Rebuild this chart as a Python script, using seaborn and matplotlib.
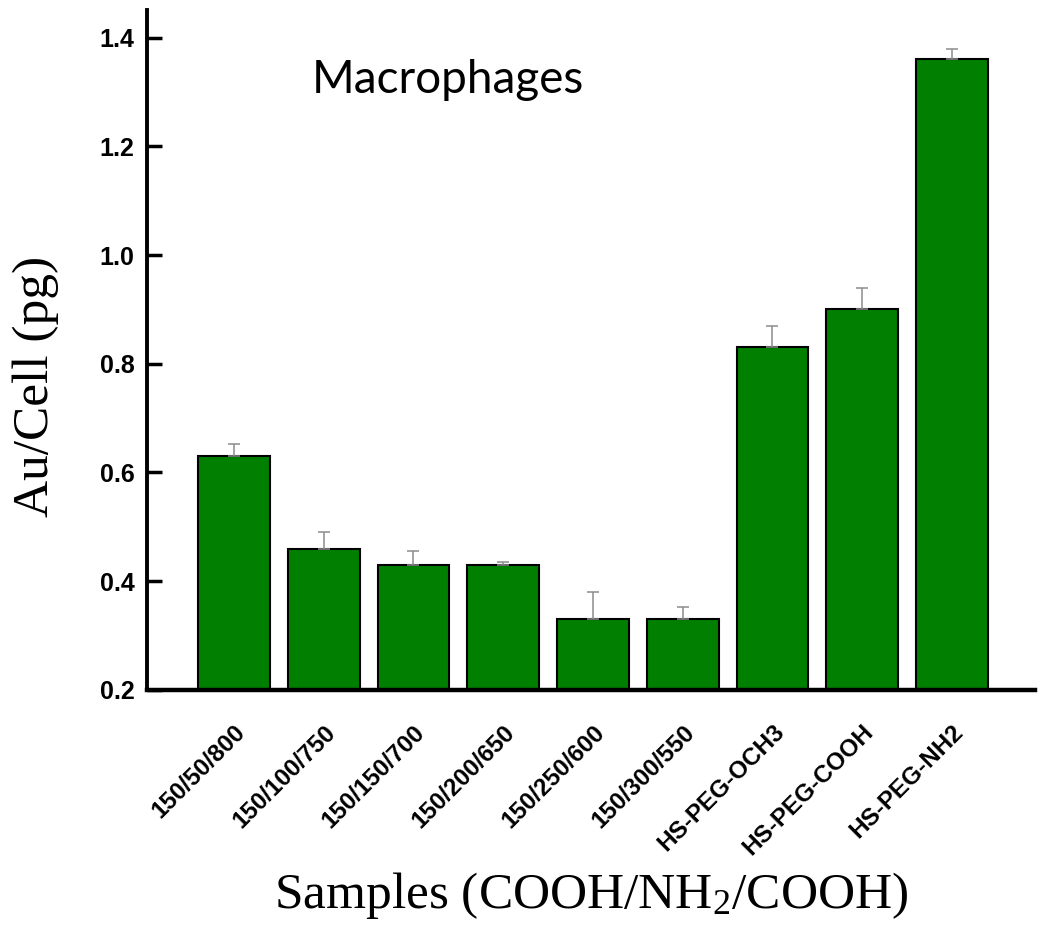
import matplotlib.pyplot as plt
import numpy as np
import pandas as pd
import seaborn as sns

samples = ["150/50/800", "150/100/750", "150/150/700", "150/200/650",
           "150/250/600", "150/300/550", "HS-PEG-OCH3", "HS-PEG-COOH", "HS-PEG-NH2"]
au_cell = [0.63, 0.46, 0.43, 0.43, 0.33, 0.33, 0.83, 0.90, 1.36]
err_up = [0.022, 0.030, 0.026, 0.005, 0.050, 0.022, 0.040, 0.040, 0.018]

df = pd.DataFrame({"sample": samples, "au": au_cell, "err": err_up})

sns.set_style("ticks")
plt.rcParams["text.color"] = "black"
plt.rcParams["axes.labelcolor"] = "black"
plt.rcParams["xtick.color"] = "black"
plt.rcParams["ytick.color"] = "black"
plt.rcParams["axes.edgecolor"] = "black"
plt.rcParams["mathtext.fontset"] = "custom"
plt.rcParams["mathtext.rm"] = "Liberation Serif"
plt.rcParams["mathtext.it"] = "Liberation Serif:italic"

fig = plt.figure(figsize=(10.5, 9.4), dpi=100)
ax = fig.add_axes([0.140, 0.266, 0.846, 0.723])

sns.barplot(data=df, x="sample", y="au", color="#007f00", saturation=1,
            edgecolor="black", linewidth=1.5, width=0.8, ax=ax)

# nur obere Fehlerbalken
ax.errorbar(np.arange(len(df)), df["au"], yerr=[np.zeros(len(df)), df["err"]],
            fmt="none", ecolor="#8c8c8c", elinewidth=1.1, capsize=4.5, capthick=1.1)

ax.set_ylim(0.2, 1.45)
ax.set_xlim(-0.97, 8.93)
ax.set_yticks([0.2, 0.4, 0.6, 0.8, 1.0, 1.2, 1.4])
ax.set_yticklabels(["0.2", "0.4", "0.6", "0.8", "1.0", "1.2", "1.4"],
                   fontfamily="Liberation Sans", fontweight="bold", fontsize=18)

ax.set_xticks(np.arange(len(df)))
ax.set_xticklabels(samples, rotation=45, ha="right", rotation_mode="anchor",
                   fontfamily="Liberation Sans", fontweight="bold", fontsize=17.5)

ax.tick_params(axis="y", direction="in", length=11, width=2.5, pad=9)
ax.tick_params(axis="x", length=0, pad=22)

sns.despine(ax=ax)
ax.spines["left"].set_linewidth(2.8)
ax.spines["bottom"].set_linewidth(3.2)

ax.set_ylabel("Au/Cell (pg)", fontfamily="Liberation Serif", fontsize=37, labelpad=29)
ax.yaxis.label.set_y(0.447)
ax.set_xlabel("Samples (COOH/NH$_2$/COOH)", fontfamily="Liberation Serif",
              fontsize=37, labelpad=7)

ax.text(0.186, 0.897, "Macrophages", transform=ax.transAxes, fontfamily="Lato",
        fontsize=33, va="center", ha="left")

fig.savefig("out.png", dpi=100)
